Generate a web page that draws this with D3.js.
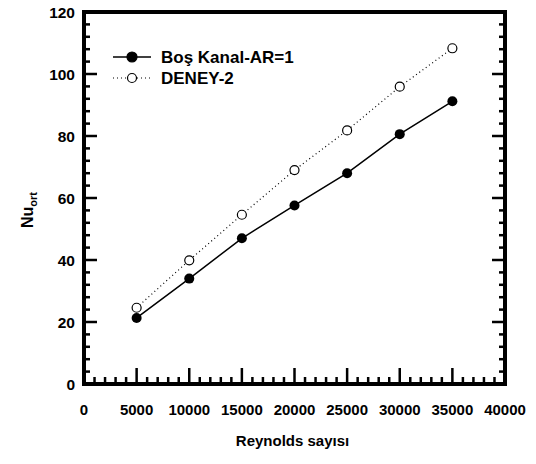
<!DOCTYPE html>
<html>
<head>
<meta charset="utf-8">
<script src="https://cdnjs.cloudflare.com/ajax/libs/d3/7.8.5/d3.min.js"></script>
<style>
  body { margin: 0; background: #fff; }
  text { font-family: "Liberation Sans", Arial, sans-serif; font-weight: bold; fill: #000; }
</style>
</head>
<body>
<svg id="chart" width="536" height="464"></svg>
<script>
var reynolds = [5000, 10000, 15000, 20000, 25000, 30000, 35000];
var bosKanal = [21.3, 34.0, 47.0, 57.6, 68.0, 80.6, 91.2];
var deney2 = [24.6, 39.9, 54.6, 69.0, 81.8, 95.9, 108.3];
var xTicks = [0, 5000, 10000, 15000, 20000, 25000, 30000, 35000, 40000];
var yTicks = [0, 20, 40, 60, 80, 100, 120];

var svg = d3.select("#chart"),
    margin = {top: 12, right: 31, bottom: 80, left: 84},
    width = svg.attr("width") - margin.left - margin.right,
    height = svg.attr("height") - margin.top - margin.bottom;

var x = d3.scaleLinear().domain([0, 40000]).range([0, width]);
var y = d3.scaleLinear().domain([0, 120]).range([height, 0]);

var g = svg.append("g")
    .attr("transform", "translate(" + margin.left + "," + margin.top + ")");

// minor + major ticks, inside the frame
var minorX = d3.range(0, 40001, 1000);
var minorY = d3.range(0, 121, 4);

var tickStyle = function(sel) {
  sel.attr("stroke", "#000").attr("stroke-width", 2.5);
};

// bottom
g.selectAll(".xminor").data(minorX).enter().append("line")
  .attr("x1", function(d) { return x(d); }).attr("x2", function(d) { return x(d); })
  .attr("y1", height).attr("y2", function(d) { return d % 5000 === 0 ? height - 16 : height - 7; })
  .call(tickStyle);

// left and right
[0, width].forEach(function(px) {
  var dir = px === 0 ? 1 : -1;
  g.selectAll(".yminor" + px).data(minorY).enter().append("line")
    .attr("y1", function(d) { return y(d); }).attr("y2", function(d) { return y(d); })
    .attr("x1", px).attr("x2", function(d) { return px + dir * (d % 20 === 0 ? 13 : 6); })
    .call(tickStyle);
});

// frame
g.append("rect")
  .attr("width", width).attr("height", height)
  .attr("fill", "none").attr("stroke", "#000").attr("stroke-width", 4);

// tick labels
g.selectAll(".xl").data(xTicks).enter().append("text")
  .attr("x", function(d) { return x(d); })
  .attr("y", height + 31)
  .attr("text-anchor", "middle")
  .style("font-size", "15px")
  .text(function(d) { return d; });

g.selectAll(".yl").data(yTicks).enter().append("text")
  .attr("x", -9)
  .attr("y", function(d) { return y(d) + 5.5; })
  .attr("text-anchor", "end")
  .style("font-size", "15.5px")
  .text(function(d) { return d; });

// axis titles
svg.append("text")
  .attr("x", margin.left + width / 2 - 2)
  .attr("y", 446)
  .attr("text-anchor", "middle")
  .style("font-size", "15px")
  .text("Reynolds sayısı");

var yt = svg.append("text")
  .attr("transform", "translate(33," + (margin.top + height / 2 + 12) + ") rotate(-90)")
  .attr("text-anchor", "middle")
  .style("font-size", "16px");
yt.append("tspan").text("Nu");
yt.append("tspan").attr("dy", 4).style("font-size", "11px").text("ort");

// lines
var line = function(vals) {
  return d3.line()
    .x(function(d, i) { return x(reynolds[i]); })
    .y(function(d) { return y(d); })(vals);
};

g.append("path").attr("d", line(deney2))
  .attr("fill", "none").attr("stroke", "#000").attr("stroke-width", 1.2)
  .attr("stroke-dasharray", "1,3");

g.append("path").attr("d", line(bosKanal))
  .attr("fill", "none").attr("stroke", "#000").attr("stroke-width", 1.5);

g.selectAll(".open").data(deney2).enter().append("circle")
  .attr("cx", function(d, i) { return x(reynolds[i]); })
  .attr("cy", function(d) { return y(d); })
  .attr("r", 4.5)
  .attr("fill", "#fff").attr("stroke", "#000").attr("stroke-width", 1.2);

g.selectAll(".filled").data(bosKanal).enter().append("circle")
  .attr("cx", function(d, i) { return x(reynolds[i]); })
  .attr("cy", function(d) { return y(d); })
  .attr("r", 5)
  .attr("fill", "#000");

// legend
var legend = [
  {name: "Boş Kanal-AR=1", filled: true},
  {name: "DENEY-2", filled: false}
];
var lg = svg.selectAll(".legend").data(legend).enter().append("g")
  .attr("transform", function(d, i) { return "translate(113," + (57 + i * 21) + ")"; });

lg.append("line")
  .attr("x1", 0).attr("x2", 38)
  .attr("stroke", "#000")
  .attr("stroke-width", function(d) { return d.filled ? 1.5 : 1.2; })
  .attr("stroke-dasharray", function(d) { return d.filled ? null : "1,3"; });

lg.append("circle")
  .attr("cx", 19).attr("r", function(d) { return d.filled ? 5 : 4.5; })
  .attr("fill", function(d) { return d.filled ? "#000" : "#fff"; })
  .attr("stroke", "#000").attr("stroke-width", 1.2);

lg.append("text")
  .attr("x", 48).attr("y", 6)
  .style("font-size", "17px")
  .text(function(d) { return d.name; });
</script>
</body>
</html>
